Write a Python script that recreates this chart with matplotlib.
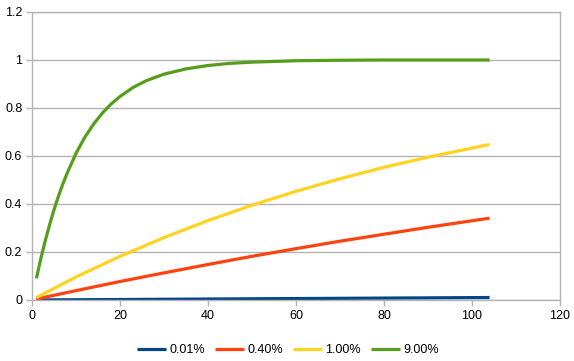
import matplotlib
matplotlib.use("Agg")
import matplotlib.pyplot as plt

plt.rcParams['font.family'] = ['Liberation Sans', 'DejaVu Sans']

labels = ["0.01%", "0.40%", "1.00%", "9.00%"]
colors = ["#004586", "#ff420e", "#ffd320", "#579d1c"]

x_blue = [1, 20, 40, 60, 80, 104]
y_blue = [0.0001, 0.002, 0.004, 0.006, 0.008, 0.0103]

x_orange = [1, 10, 20, 30, 40, 50, 60, 70, 80, 90, 104]
y_orange = [0.004, 0.039, 0.077, 0.113, 0.148, 0.182, 0.214, 0.245, 0.274, 0.303, 0.341]

x_yellow = [1, 10, 20, 30, 40, 50, 60, 70, 80, 90, 104]
y_yellow = [0.01, 0.096, 0.182, 0.26, 0.331, 0.395, 0.453, 0.505, 0.553, 0.595, 0.648]

x_green = [1, 2, 3, 4, 5, 6, 7, 8, 10, 12, 14, 16, 18, 20, 23, 26, 30, 35, 40, 45, 50, 60, 70, 80, 90, 104]
y_green = [0.09, 0.172, 0.246, 0.314, 0.376, 0.432, 0.483, 0.529, 0.611, 0.678, 0.733, 0.779, 0.817, 0.848,
           0.886, 0.914, 0.941, 0.963, 0.977, 0.986, 0.991, 0.997, 0.999, 1.0, 1.0, 1.0]

series_x = [x_blue, x_orange, x_yellow, x_green]
series_y = [y_blue, y_orange, y_yellow, y_green]

fig = plt.figure(figsize=(5.74, 3.61), dpi=100)
ax = fig.add_axes([32/574, 1 - 300/361, (560 - 32)/574, (300 - 12)/361])

for xs, ys, c, lab in zip(series_x, series_y, colors, labels):
    ax.plot(xs, ys, color=c, lw=2.3, label=lab, solid_capstyle='butt')

ax.set_xlim(0, 120)
ax.set_ylim(0, 1.2)
ax.set_xticks(range(0, 121, 20))
ax.set_yticks([0, 0.2, 0.4, 0.6, 0.8, 1.0, 1.2])
ax.set_yticklabels(["0", "0.2", "0.4", "0.6", "0.8", "1", "1.2"])
ax.yaxis.grid(True, color="#b3b3b3", lw=1)
ax.set_axisbelow(True)
for s in ax.spines.values():
    s.set_color("#b3b3b3")
    s.set_linewidth(1)
ax.tick_params(axis='both', colors="#b3b3b3", labelcolor="black", labelsize=9, length=4, width=1, direction='out')
ax.tick_params(axis='y', pad=3)

leg = fig.legend(loc='center', bbox_to_anchor=(288/574, 1 - 350/361), ncol=4, frameon=False,
                 fontsize=9, handlelength=2.3, handletextpad=0.3, columnspacing=0.8)

fig.savefig("out.png", dpi=100)
